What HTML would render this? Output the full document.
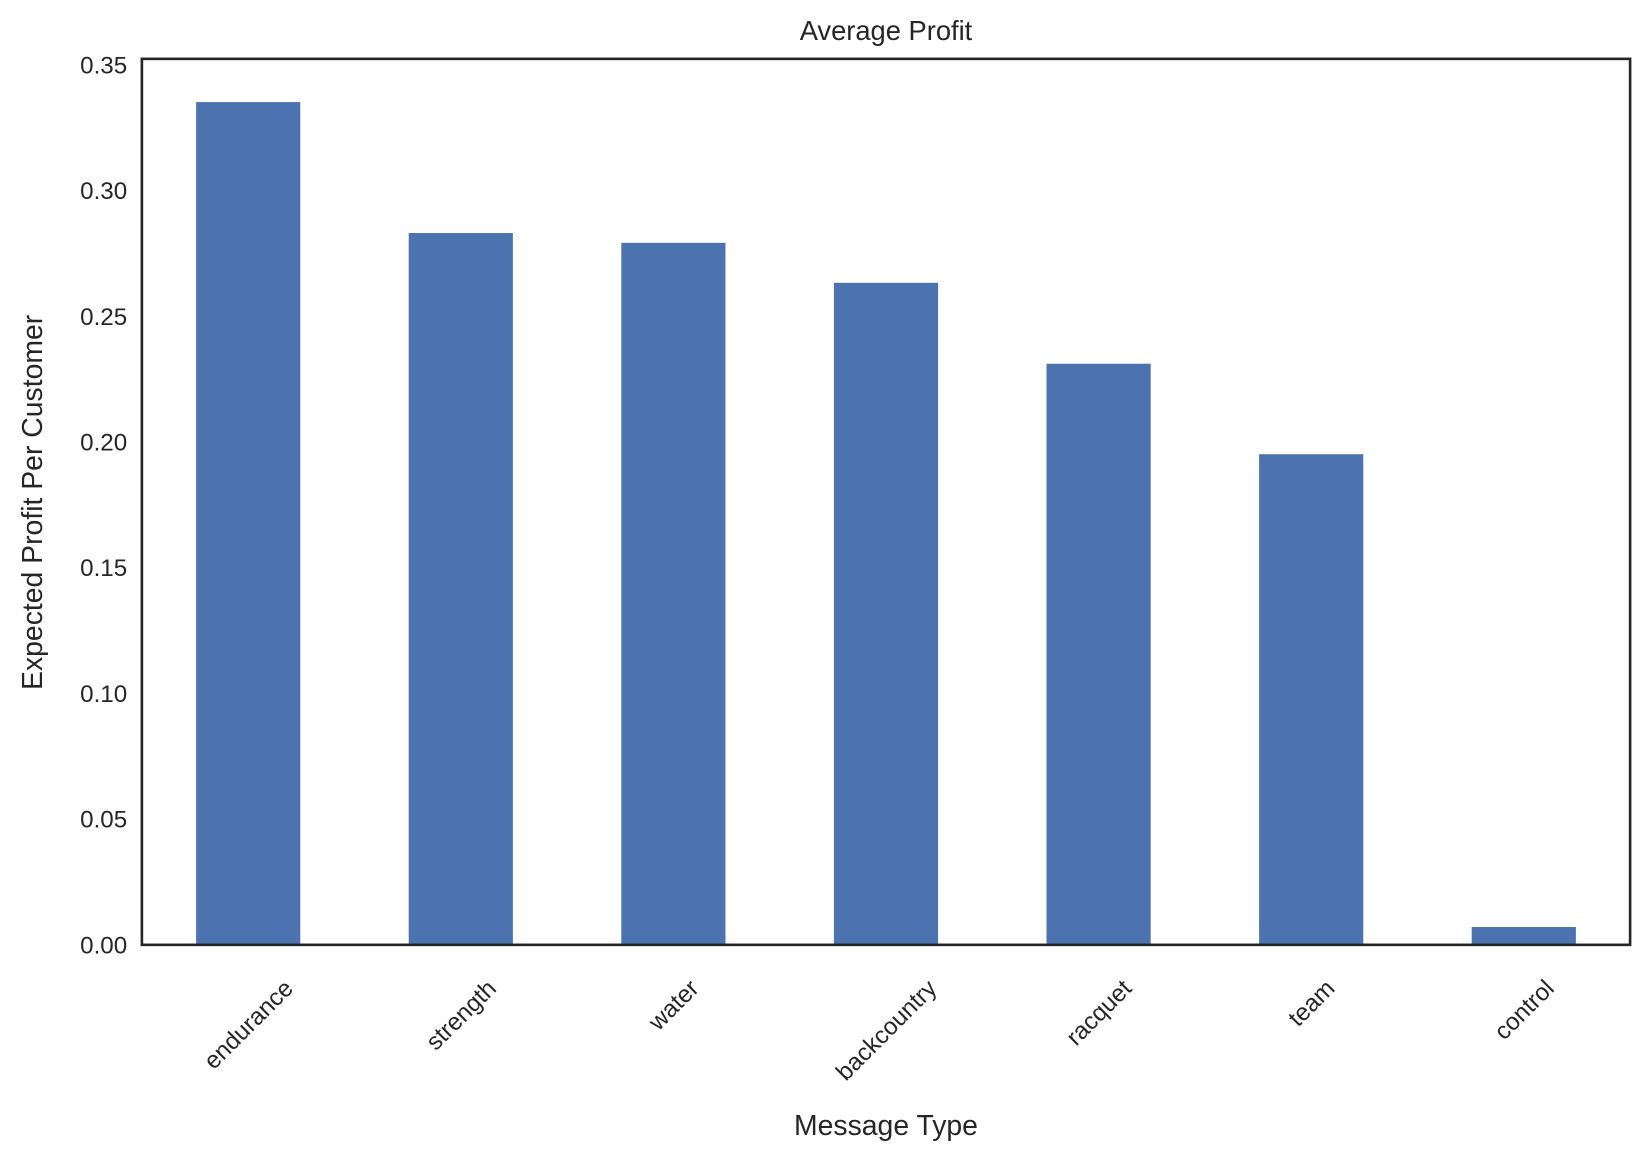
<!DOCTYPE html>
<html><head><meta charset="utf-8"><style>
body{margin:0;background:#fff;}
svg{display:block;font-family:"Liberation Sans","DejaVu Sans",sans-serif;fill:#262626;}
</style></head><body>
<svg id="chart" width="1648" height="1161">
<g transform="scale(1.051)">
<text x="843" y="38" font-size="26" text-anchor="middle">Average Profit</text>
<text x="843" y="1080" font-size="27" text-anchor="middle">Message Type</text>
<text transform="translate(40,478) rotate(-90)" font-size="27" text-anchor="middle">Expected Profit Per Customer</text>
<g id="bars"></g><g id="yticks"></g><g id="xticks"></g>
<rect x="135" y="56" width="1416" height="843" fill="none" stroke="#262626" stroke-width="2.5"/>
</g>
</svg>
<script>
const categories=["endurance","strength","water","backcountry","racquet","team","control"];
const values=[0.3353,0.2832,0.2793,0.2634,0.2312,0.1952,0.0071];
const yTicks=[0,0.05,0.10,0.15,0.20,0.25,0.30,0.35];
const yTickLabels=["0.00","0.05","0.10","0.15","0.20","0.25","0.30","0.35"];
const L=135,R=1551,T=56,B=899,YMAX=0.3525;
const NS="http://www.w3.org/2000/svg";
const y=v=>B-(v/YMAX)*(B-T);
const step=(R-L)/categories.length;
const x=i=>L+step*(i+0.5);
const bw=step*0.49;
const bars=document.getElementById('bars'),yt=document.getElementById('yticks'),xt=document.getElementById('xticks');
values.forEach((v,i)=>{
 const r=document.createElementNS(NS,'rect');
 r.setAttribute('x',x(i)-bw/2);r.setAttribute('y',y(v));
 r.setAttribute('width',bw);r.setAttribute('height',B-y(v));
 r.setAttribute('fill','#4c72b0');
 
 
 bars.appendChild(r);
});
yTicks.forEach((v,i)=>{
 const t=document.createElementNS(NS,'text');
 t.setAttribute('x',L-14);t.setAttribute('y',y(v)+8);
 t.setAttribute('font-size','23');t.setAttribute('text-anchor','end');
 t.textContent=yTickLabels[i];
 
 
 yt.appendChild(t);
});
categories.forEach((c,i)=>{
 const t=document.createElementNS(NS,'text');
 t.setAttribute('font-size','23');t.setAttribute('text-anchor','middle');
 t.setAttribute('dy','8');
 t.textContent=c;
 
 
 xt.appendChild(t);
 const len=t.getComputedTextLength()||c.length*11.5;
 const cy=B+29+(len+23)*0.7071/2;
 t.setAttribute('transform','translate('+x(i)+','+cy+') rotate(-45)');
});
</script>
</body></html>
